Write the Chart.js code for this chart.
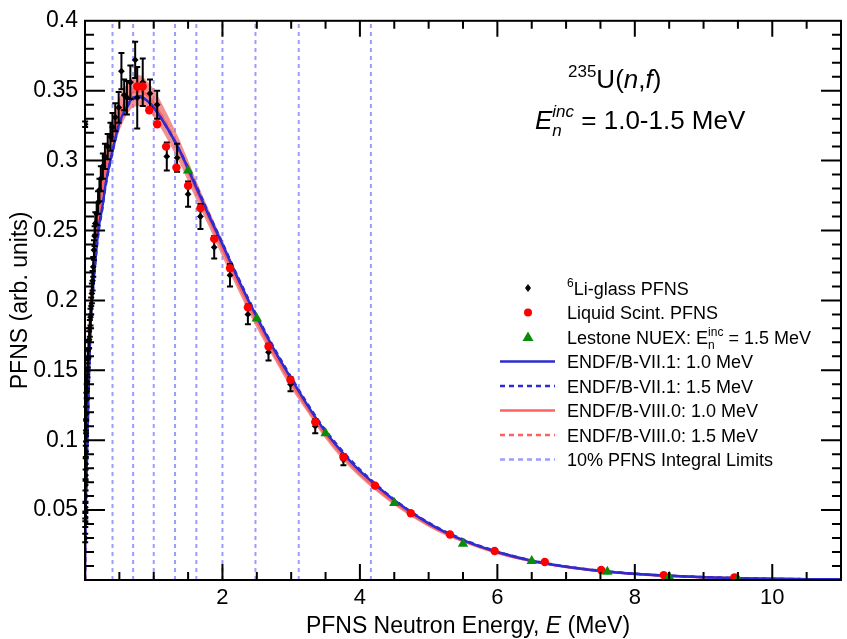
<!DOCTYPE html>
<html>
<head>
<meta charset="utf-8">
<script src="https://cdn.jsdelivr.net/npm/chart.js@4.4.1/dist/chart.umd.min.js"></script>
<style>
    html, body { margin: 0; padding: 0; background: #fff; }
    #wrap { width: 847px; height: 639px; }
</style>
</head>
<body>
<div id="wrap"><canvas id="pfns"></canvas></div>
<script>
const FONT = '"Liberation Sans", Arial, Helvetica, sans-serif';

// evaluated spectra (MeV, arb. units)
const energyGrid = [0, 0.002, 0.005, 0.01, 0.02, 0.03, 0.05, 0.075, 0.1, 0.15, 0.2, 0.25, 0.3, 0.4, 0.5, 0.6, 0.7, 0.8, 0.9, 1.0,
    1.2, 1.4, 1.6, 1.8, 2.0, 2.25, 2.5, 2.75, 3.0, 3.25, 3.5, 3.75, 4.0, 4.5, 5.0, 5.5, 6.0, 6.5, 7.0, 7.5, 8.0, 8.5, 9.0, 9.5, 10.0, 10.5, 11.0];
const endf71_10 = [0, 0.020, 0.034, 0.050, 0.072, 0.090, 0.132, 0.175, 0.197, 0.228, 0.252, 0.266, 0.283, 0.307, 0.327, 0.338, 0.345, 0.346, 0.343, 0.338,
    0.323, 0.305, 0.283, 0.261, 0.240, 0.213, 0.188, 0.165, 0.144, 0.124, 0.106, 0.091, 0.078, 0.057, 0.0405, 0.0285, 0.0200, 0.0138, 0.0095, 0.0065, 0.0044, 0.0030, 0.0020, 0.0013, 0.0009, 0.0006, 0.0004];
const endf71_15 = [0, 0.020, 0.034, 0.050, 0.072, 0.090, 0.131, 0.174, 0.196, 0.227, 0.250, 0.265, 0.282, 0.306, 0.326, 0.337, 0.344, 0.345, 0.343, 0.338,
    0.323, 0.305, 0.284, 0.262, 0.241, 0.214, 0.189, 0.166, 0.145, 0.125, 0.107, 0.092, 0.079, 0.0575, 0.041, 0.029, 0.0203, 0.014, 0.0097, 0.0066, 0.0045, 0.0031, 0.0021, 0.0014, 0.0009, 0.0006, 0.0004];
const endf80_10 = [0, 0.025, 0.040, 0.058, 0.083, 0.103, 0.145, 0.185, 0.207, 0.240, 0.263, 0.279, 0.294, 0.316, 0.333, 0.343, 0.349, 0.350, 0.347, 0.341,
    0.324, 0.304, 0.281, 0.259, 0.237, 0.210, 0.185, 0.162, 0.141, 0.122, 0.104, 0.089, 0.076, 0.0555, 0.0395, 0.028, 0.0195, 0.0135, 0.0093, 0.0064, 0.0043, 0.0029, 0.0019, 0.0013, 0.0009, 0.0006, 0.0004];
const endf80_15 = [0, 0.025, 0.040, 0.058, 0.082, 0.102, 0.144, 0.184, 0.206, 0.239, 0.262, 0.278, 0.293, 0.315, 0.332, 0.342, 0.348, 0.349, 0.347, 0.341,
    0.325, 0.305, 0.282, 0.260, 0.238, 0.211, 0.186, 0.163, 0.142, 0.123, 0.105, 0.090, 0.077, 0.056, 0.040, 0.0284, 0.0198, 0.0137, 0.0095, 0.0065, 0.0044, 0.0030, 0.0020, 0.0013, 0.0009, 0.0006, 0.0004];
const endf80_unc = [0, 0.004, 0.005, 0.006, 0.007, 0.008, 0.009, 0.010, 0.011, 0.012, 0.012, 0.012, 0.012, 0.012, 0.012, 0.011, 0.011, 0.011, 0.010, 0.010,
    0.009, 0.008, 0.007, 0.006, 0.006, 0.005, 0.005, 0.004, 0.004, 0.003, 0.003, 0.003, 0.0025, 0.002, 0.0015, 0.0012, 0.001, 0.0008, 0.0006, 0.0005, 0.0004, 0.0003, 0.0003, 0.0002, 0.0002, 0.0001, 0.0001];

// 6Li-glass PFNS
const liglassE = [0.002, 0.003, 0.004, 0.005, 0.006, 0.007, 0.008, 0.009, 0.010, 0.012, 0.014, 0.016, 0.018, 0.020, 0.025, 0.03, 0.035, 0.04, 0.05, 0.06,
    0.07, 0.08, 0.09, 0.10, 0.11, 0.12, 0.13, 0.14, 0.15, 0.17, 0.19, 0.21, 0.23, 0.26, 0.29, 0.33, 0.37, 0.40, 0.44, 0.49,
    0.53, 0.57, 0.61, 0.66, 0.73, 0.76, 0.84, 0.945, 1.05, 1.19, 1.34, 1.50, 1.68, 1.88, 2.11, 2.37, 2.67, 2.99, 3.35, 3.76];
const liglassY = [0.326, 0.030, 0.041, 0.045, 0.052, 0.060, 0.068, 0.075, 0.083, 0.092, 0.103, 0.110, 0.119, 0.129, 0.135, 0.142, 0.150, 0.158, 0.165, 0.172,
    0.180, 0.188, 0.196, 0.205, 0.214, 0.224, 0.236, 0.246, 0.255, 0.262, 0.270, 0.279, 0.287, 0.296, 0.303, 0.310, 0.317, 0.324, 0.331, 0.338,
    0.364, 0.347, 0.345, 0.356, 0.372, 0.345, 0.356, 0.348, 0.340, 0.303, 0.302, 0.276, 0.260, 0.238, 0.218, 0.190, 0.163, 0.140, 0.110, 0.086];
const liglassErr = [0.002, 0.003, 0.003, 0.003, 0.003, 0.004, 0.004, 0.004, 0.004, 0.004, 0.004, 0.005, 0.005, 0.005, 0.005, 0.005, 0.005, 0.006, 0.006, 0.006,
    0.006, 0.006, 0.006, 0.007, 0.007, 0.007, 0.007, 0.007, 0.008, 0.008, 0.008, 0.008, 0.009, 0.009, 0.009, 0.009, 0.010, 0.010, 0.010, 0.011,
    0.013, 0.011, 0.012, 0.012, 0.013, 0.022, 0.017, 0.010, 0.010, 0.010, 0.010, 0.009, 0.009, 0.008, 0.008, 0.007, 0.006, 0.005, 0.005, 0.004];

// Liquid scintillator PFNS
const scintE = [0.76, 0.84, 0.935, 1.05, 1.18, 1.33, 1.50, 1.68, 1.88, 2.11, 2.37, 2.67, 2.99, 3.35, 3.76, 4.22, 4.74, 5.31, 5.96, 6.69, 7.51, 8.42, 9.45];
const scintY = [0.353, 0.353, 0.336, 0.326, 0.310, 0.295, 0.282, 0.266, 0.244, 0.223, 0.195, 0.167, 0.143, 0.113, 0.088, 0.0675, 0.0478, 0.0325, 0.0207, 0.0129, 0.0071, 0.0035, 0.0019];

// Lestone NUEX, E_inc = 1.5 MeV
const lestoneE = [1.5, 2.5, 3.5, 4.5, 5.5, 6.5, 7.6, 8.5, 9.5];
const lestoneY = [0.293, 0.187, 0.105, 0.055, 0.026, 0.0136, 0.0059, 0.0023, 0.0005];

// 10% PFNS integral limits
const limitE = [0.40, 0.70, 1.00, 1.31, 1.62, 2.00, 2.48, 3.11, 4.16];

const xMin = 0, xMax = 11, xMajor = 2, xMinor = 0.5;
const yMin = 0, yMax = 0.4, yMajor = 0.05, yMinor = 0.01;

const BLUE = '#2c2cd0';
const RED = '#ff6060';
const BAND = 'rgba(236,104,104,0.72)';
const LIMIT = '#9c9cff';
const GREEN = '#0a8c0a';

const pts = (xs, ys) => xs.map((x, i) => ({ x, y: ys[i] }));

function font(italic, size) {
    return (italic ? 'italic ' : '') + size + 'px ' + FONT;
}

// text made of pieces: {t, it, sz, dy} or {stack: {sub, sup, sz, it, subDy, supDy}}
function richWidth(ctx, parts) {
    let w = 0;
    for (const p of parts) {
        if (p.stack) {
            ctx.font = font(p.stack.it, p.stack.sz);
            w += Math.max(ctx.measureText(p.stack.sub).width, ctx.measureText(p.stack.sup).width);
        } else {
            ctx.font = font(p.it, p.sz);
            w += ctx.measureText(p.t).width;
        }
    }
    return w;
}

function drawRich(ctx, x, y, parts) {
    ctx.textAlign = 'left';
    ctx.textBaseline = 'alphabetic';
    for (const p of parts) {
        if (p.stack) {
            const s = p.stack;
            ctx.font = font(s.it, s.sz);
            ctx.fillText(s.sub, x, y + s.subDy);
            ctx.fillText(s.sup, x, y + s.supDy);
            x += Math.max(ctx.measureText(s.sub).width, ctx.measureText(s.sup).width);
        } else {
            ctx.font = font(p.it, p.sz);
            ctx.fillText(p.t, x, y + (p.dy || 0));
            x += ctx.measureText(p.t).width;
        }
    }
}

const errorBars = {
    id: 'errorBars',
    beforeDatasetDraw(chart, args) {
        if (args.index !== 2) return;
        const { ctx, scales: { x, y } } = chart;
        ctx.save();
        ctx.strokeStyle = '#000';
        ctx.lineWidth = 2;
        ctx.beginPath();
        liglassE.forEach((e, i) => {
            const px = x.getPixelForValue(e);
            const top = y.getPixelForValue(liglassY[i] + liglassErr[i]);
            const bot = y.getPixelForValue(liglassY[i] - liglassErr[i]);
            ctx.moveTo(px, top); ctx.lineTo(px, bot);
            ctx.moveTo(px - 3, top); ctx.lineTo(px + 3, top);
            ctx.moveTo(px - 3, bot); ctx.lineTo(px + 3, bot);
        });
        ctx.stroke();
        ctx.restore();
    }
};

const frame = {
    id: 'frame',
    afterDraw(chart) {
        const { ctx, chartArea: a, scales: { x, y } } = chart;
        ctx.save();
        ctx.strokeStyle = '#000';
        ctx.lineWidth = 2;
        ctx.strokeRect(a.left, a.top, a.right - a.left, a.bottom - a.top);
        ctx.beginPath();
        const nx = Math.round((xMax - xMin) / xMinor);
        for (let i = 1; i < nx; i++) {
            const v = xMin + i * xMinor;
            const px = x.getPixelForValue(v);
            const len = Math.abs(v / xMajor - Math.round(v / xMajor)) < 1e-6 ? 16 : 8;
            ctx.moveTo(px, a.bottom); ctx.lineTo(px, a.bottom - len);
            ctx.moveTo(px, a.top); ctx.lineTo(px, a.top + len);
        }
        const ny = Math.round((yMax - yMin) / yMinor);
        for (let i = 1; i < ny; i++) {
            const v = yMin + i * yMinor;
            const py = y.getPixelForValue(v);
            const len = i % 5 === 0 ? 20 : 9;
            ctx.moveTo(a.left, py); ctx.lineTo(a.left + len, py);
            ctx.moveTo(a.right, py); ctx.lineTo(a.right - len, py);
        }
        ctx.stroke();

        ctx.fillStyle = '#000';
        // axis titles
        const xt = [{ t: 'PFNS Neutron Energy, ', sz: 23 }, { t: 'E', it: true, sz: 23 }, { t: ' (MeV)', sz: 23 }];
        drawRich(ctx, 468 - richWidth(ctx, xt) / 2, 633, xt);
        ctx.save();
        ctx.translate(27, (a.top + a.bottom) / 2);
        ctx.rotate(-Math.PI / 2);
        ctx.font = font(false, 23);
        ctx.textAlign = 'center';
        ctx.textBaseline = 'alphabetic';
        ctx.fillText('PFNS (arb. units)', 0, 0);
        ctx.restore();

        // reaction label
        drawRich(ctx, 568, 88, [
            { t: '235', sz: 17, dy: -11 }, { t: 'U(', sz: 26 }, { t: 'n', it: true, sz: 26 },
            { t: ',', sz: 26 }, { t: 'f', it: true, sz: 26 }, { t: ')', sz: 26 }
        ]);
        drawRich(ctx, 535, 129, [
            { t: 'E', it: true, sz: 26 },
            { stack: { sub: 'n', sup: 'inc', sz: 17, it: true, subDy: 7, supDy: -12 } },
            { t: ' = 1.0-1.5 MeV', sz: 26 }
        ]);

        // legend
        const lx0 = 500, lx1 = 555, mx = 528, tx = 567, ly0 = 288, dy = 24.5;
        const rows = [
            [{ t: '6', sz: 12, dy: -8 }, { t: 'Li-glass PFNS', sz: 18 }],
            [{ t: 'Liquid Scint. PFNS', sz: 18 }],
            [{ t: 'Lestone NUEX: E', sz: 18 }, { stack: { sub: 'n', sup: 'inc', sz: 12, subDy: 5, supDy: -8 } }, { t: ' = 1.5 MeV', sz: 18 }],
            [{ t: 'ENDF/B-VII.1: 1.0 MeV', sz: 18 }],
            [{ t: 'ENDF/B-VII.1: 1.5 MeV', sz: 18 }],
            [{ t: 'ENDF/B-VIII.0: 1.0 MeV', sz: 18 }],
            [{ t: 'ENDF/B-VIII.0: 1.5 MeV', sz: 18 }],
            [{ t: '10% PFNS Integral Limits', sz: 18 }]
        ];
        rows.forEach((r, i) => drawRich(ctx, tx, ly0 + i * dy + 6.5, r));

        // legend markers
        let yy = ly0;
        ctx.fillStyle = '#000';
        ctx.beginPath();
        ctx.moveTo(mx, yy - 4); ctx.lineTo(mx + 3, yy); ctx.lineTo(mx, yy + 4); ctx.lineTo(mx - 3, yy);
        ctx.closePath(); ctx.fill();
        yy += dy;
        ctx.fillStyle = '#ff0000';
        ctx.beginPath(); ctx.arc(mx, yy, 4, 0, Math.PI * 2); ctx.fill();
        yy += dy;
        ctx.fillStyle = GREEN;
        ctx.beginPath();
        ctx.moveTo(mx, yy - 5.5); ctx.lineTo(mx + 5.5, yy + 4); ctx.lineTo(mx - 5.5, yy + 4);
        ctx.closePath(); ctx.fill();
        const lines = [[BLUE, []], [BLUE, [5, 4]], [RED, []], [RED, [5, 4]], [LIMIT, [5, 4]]];
        lines.forEach(([c, d], i) => {
            const ly = ly0 + (3 + i) * dy;
            ctx.strokeStyle = c;
            ctx.lineWidth = 2.5;
            ctx.setLineDash(d);
            ctx.beginPath(); ctx.moveTo(lx0, ly); ctx.lineTo(lx1, ly); ctx.stroke();
        });
        ctx.setLineDash([]);
        ctx.restore();
    }
};

const curve = (arr, color, dash) => ({
    data: pts(energyGrid, arr),
    borderColor: color,
    borderWidth: 2.5,
    borderDash: dash,
    pointRadius: 0,
    fill: false,
    cubicInterpolationMode: 'monotone'
});

const datasets = [
    { data: pts(lestoneE, lestoneY), showLine: false, pointStyle: 'triangle', pointRadius: 6,
      backgroundColor: GREEN, borderColor: GREEN, borderWidth: 0 },
    { data: pts(scintE, scintY), showLine: false, pointStyle: 'circle', pointRadius: 4.2,
      backgroundColor: '#ff0000', borderColor: '#ff0000', borderWidth: 0 },
    { data: pts(liglassE, liglassY), showLine: false, pointStyle: 'rectRot', pointRadius: 3.4,
      backgroundColor: '#000', borderColor: '#000', borderWidth: 0 },
    curve(endf71_15, BLUE, [5, 4]),
    curve(endf71_10, BLUE, []),
    curve(endf80_15, RED, [5, 4]),
    curve(endf80_10, RED, []),
    { data: pts(energyGrid, endf80_10.map((v, i) => v + endf80_unc[i])), borderWidth: 0, pointRadius: 0,
      fill: false, cubicInterpolationMode: 'monotone' },
    { data: pts(energyGrid, endf80_10.map((v, i) => Math.max(v - endf80_unc[i], 0))), borderWidth: 0, pointRadius: 0,
      fill: { target: 7 }, backgroundColor: BAND, cubicInterpolationMode: 'monotone' },
    ...limitE.map(e => ({
        data: [{ x: e, y: yMin }, { x: e, y: yMax }],
        borderColor: LIMIT, borderWidth: 2, borderDash: [4, 4], pointRadius: 0, fill: false
    }))
];

new Chart(document.getElementById('pfns'), {
    type: 'line',
    data: { datasets },
    options: {
        responsive: true,
        maintainAspectRatio: false,
        animation: false,
        layout: { padding: { top: 14, right: 1, left: 0, bottom: 0 } },
        plugins: { legend: { display: false }, tooltip: { enabled: false } },
        scales: {
            x: {
                type: 'linear', min: xMin, max: xMax,
                grid: { display: false, drawTicks: false },
                border: { display: false },
                afterFit: s => { s.height = 59; },
                ticks: {
                    stepSize: xMajor, includeBounds: false, autoSkip: false, maxRotation: 0, padding: 5,
                    color: '#000', font: { family: FONT, size: 22 },
                    callback: v => (v === 0 || v % xMajor !== 0) ? '' : String(v)
                }
            },
            y: {
                type: 'linear', min: yMin, max: yMax,
                grid: { display: false, drawTicks: false },
                border: { display: false },
                afterFit: s => { s.width = 85; },
                ticks: {
                    stepSize: yMajor, autoSkip: false, padding: 7,
                    color: '#000', font: { family: FONT, size: 23 },
                    callback: v => v === 0 ? '' : String(parseFloat(v.toFixed(2)))
                }
            }
        }
    },
    plugins: [errorBars, frame]
});
</script>
</body>
</html>
